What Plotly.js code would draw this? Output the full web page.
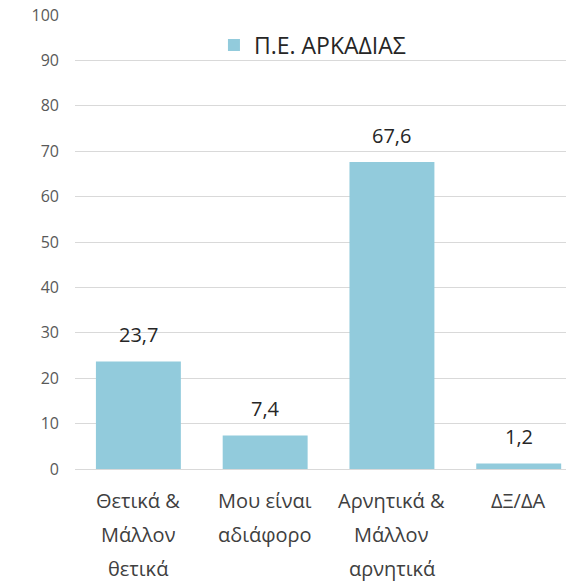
<!DOCTYPE html>
<html>
<head>
<meta charset="utf-8">
<script src="https://cdn.plot.ly/plotly-3.0.1.min.js"></script>
<style>html,body{margin:0;padding:0;background:#fff;}#chart{width:566px;height:586px;}</style>
</head>
<body>
<div id="chart"></div>
<script>
const categories = ["Θετικά & Μάλλον θετικά", "Μου είναι αδιάφορο", "Αρνητικά & Μάλλον αρνητικά", "ΔΞ/ΔΑ"];
const categoryLines = [["Θετικά &", "Μάλλον", "θετικά"], ["Μου είναι", "αδιάφορο"], ["Αρνητικά &", "Μάλλον", "αρνητικά"], ["ΔΞ/ΔΑ"]];
const values = [23.7, 7.4, 67.6, 1.2];
const valueLabels = ["23,7", "7,4", "67,6", "1,2"];
const seriesName = "Π.Ε. ΑΡΚΑΔΙΑΣ";
const yTicks = [0, 10, 20, 30, 40, 50, 60, 70, 80, 90, 100];

const FONT = "Open Sans, DejaVu Sans, sans-serif";
const trace = {
  type: "bar",
  x: [0, 1, 2, 3],
  y: values,
  name: seriesName,
  marker: {color: "#92CBDC"},
  width: 0.67,
  showlegend: true,
  hoverinfo: "none"
};

const annotations = [];
values.forEach((v, i) => {
  annotations.push({
    x: i, y: v, xref: "x", yref: "y",
    text: valueLabels[i], showarrow: false,
    yanchor: "middle", yshift: 27,
    font: {family: FONT, size: 20, color: "#262626"}
  });
});
categoryLines.forEach((lines, i) => {
  lines.forEach((line, j) => {
    annotations.push({
      x: i, y: 0, xref: "x", yref: "paper",
      text: line, showarrow: false,
      yanchor: "middle", yshift: -31 - 34 * j,
      font: {family: FONT, size: 20, color: "#404040"}
    });
  });
});

const layout = {
  width: 566, height: 586,
  margin: {l: 75, r: 0, t: 15, b: 117},
  paper_bgcolor: "#fff", plot_bgcolor: "#fff",
  font: {family: FONT},
  xaxis: {
    range: [-0.5, 3.373],
    showticklabels: false, showgrid: false, zeroline: false,
    ticks: "", fixedrange: true
  },
  yaxis: {
    range: [0, 100],
    tickvals: yTicks,
    ticktext: yTicks.map(String),
    showgrid: true, gridcolor: "#D9D9D9", gridwidth: 1,
    zeroline: true, zerolinecolor: "#D9D9D9", zerolinewidth: 1,
    showline: false, ticks: "",
    ticklabelstandoff: 15,
    tickfont: {family: FONT, size: 16, color: "#595959"}
  },
  legend: {
    x: 0.283, y: 0.934, xanchor: "left", yanchor: "middle",
    bgcolor: "rgba(0,0,0,0)",
    font: {family: FONT, size: 23, color: "#262626"}
  },
  showlegend: true,
  bargap: 0.33,
  annotations: annotations
};

Plotly.newPlot("chart", [trace], layout, {displayModeBar: false, staticPlot: true});
</script>
</body>
</html>
